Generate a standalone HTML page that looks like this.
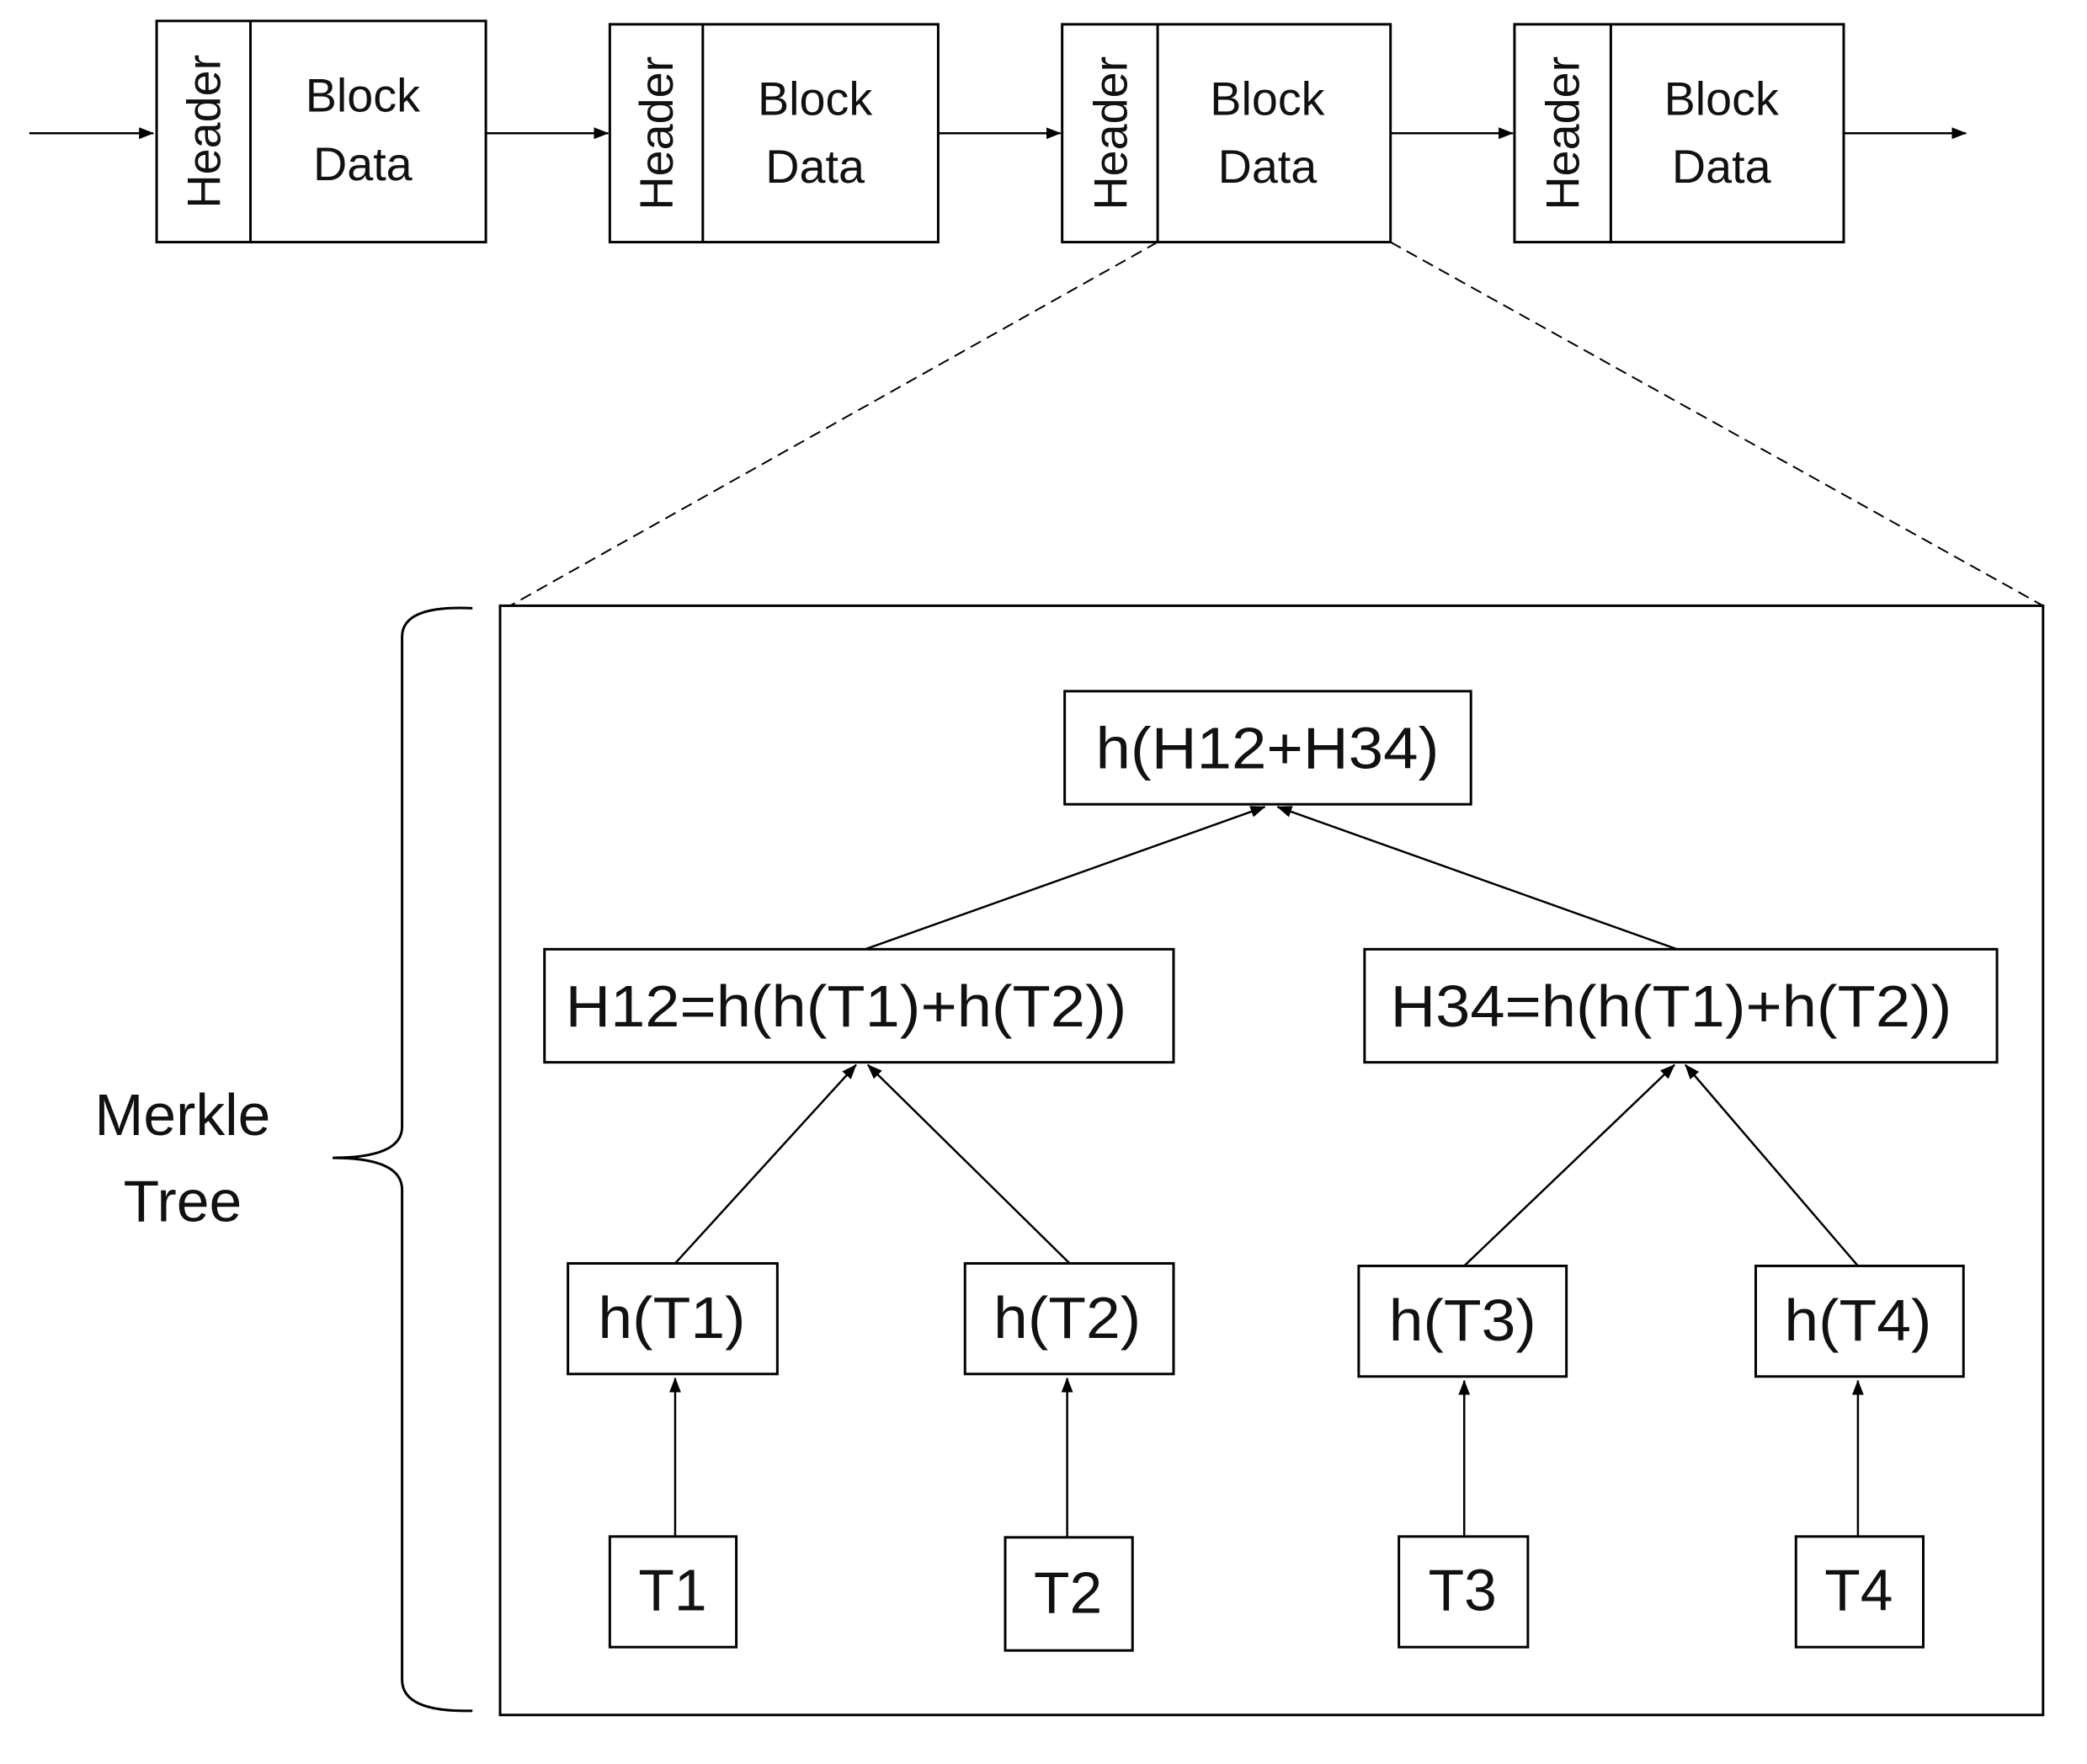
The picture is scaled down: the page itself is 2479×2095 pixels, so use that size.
<!DOCTYPE html>
<html><head><meta charset="utf-8"><style>
html,body{margin:0;padding:0;background:#fff;}
svg{display:block;}
text{font-family:"Liberation Sans",sans-serif;fill:#111;}
</style></head><body>
<svg width="2479" height="2095" viewBox="0 0 2479 2095" xmlns="http://www.w3.org/2000/svg">
<defs>
<marker id="b" markerWidth="18" markerHeight="18" refX="17" refY="9" orient="auto" markerUnits="userSpaceOnUse" viewBox="0 0 18 18">
<path d="M0,2 L18,9 L0,16 z" fill="#000"/></marker>
</defs>
<g transform="scale(0.995)">
<g stroke="#000" stroke-width="3" fill="none">
<rect x="187" y="25" width="393" height="264"/><line x1="299" y1="25" x2="299" y2="289"/>
<rect x="728" y="29" width="392" height="260"/><line x1="839" y1="29" x2="839" y2="289"/>
<rect x="1268" y="29" width="392" height="260"/><line x1="1382" y1="29" x2="1382" y2="289"/>
<rect x="1808" y="29" width="393" height="260"/><line x1="1923" y1="29" x2="1923" y2="289"/>
</g>
<g stroke="#000" stroke-width="2.5" fill="none">
<line x1="35" y1="159" x2="183" y2="159" marker-end="url(#b)"/>
<line x1="580" y1="159" x2="726" y2="159" marker-end="url(#b)"/>
<line x1="1120" y1="159" x2="1266" y2="159" marker-end="url(#b)"/>
<line x1="1660" y1="159" x2="1806" y2="159" marker-end="url(#b)"/>
<line x1="2201" y1="159" x2="2347" y2="159" marker-end="url(#b)"/>
</g>
<g font-size="56" text-anchor="middle">
<text x="433" y="133">Block</text><text x="433" y="215">Data</text>
<text x="973" y="137">Block</text><text x="973" y="218">Data</text>
<text x="1513" y="137">Block</text><text x="1513" y="218">Data</text>
<text x="2055" y="137">Block</text><text x="2055" y="218">Data</text>
</g>
<g font-size="56" text-anchor="middle">
<text transform="translate(263,157) rotate(-90)">Header</text>
<text transform="translate(803,159) rotate(-90)">Header</text>
<text transform="translate(1345,159) rotate(-90)">Header</text>
<text transform="translate(1885,159) rotate(-90)">Header</text>
</g>
<g stroke="#000" stroke-width="2" stroke-dasharray="14,8" fill="none">
<line x1="1382" y1="289" x2="609" y2="723"/>
<line x1="1660" y1="289" x2="2439" y2="723"/>
</g>
<rect x="597" y="723" width="1842" height="1324" stroke="#000" stroke-width="3" fill="none"/>
<path d="M564,726 Q480,722 480,760 L480,1345 Q480,1382 397,1382 Q480,1382 480,1420 L480,2005 Q480,2044 564,2042" stroke="#000" stroke-width="3" fill="none"/>
<g font-size="70" text-anchor="middle">
<text x="218" y="1355">Merkle</text>
<text x="218" y="1458">Tree</text>
</g>
<g stroke="#000" stroke-width="3" fill="none">
<rect x="1271" y="825" width="485" height="135"/>
<rect x="650" y="1133" width="751" height="135"/>
<rect x="1629" y="1133" width="755" height="135"/>
<rect x="678" y="1508" width="250" height="132"/>
<rect x="1152" y="1508" width="249" height="132"/>
<rect x="1622" y="1511" width="248" height="132"/>
<rect x="2096" y="1511" width="248" height="132"/>
<rect x="728" y="1834" width="151" height="132"/>
<rect x="1200" y="1835" width="152" height="135"/>
<rect x="1670" y="1834" width="154" height="132"/>
<rect x="2144" y="1834" width="152" height="132"/>
</g>
<g stroke="#000" stroke-width="2.5" fill="none">
<line x1="806" y1="1834" x2="806" y2="1645" marker-end="url(#b)"/>
<line x1="1274" y1="1835" x2="1274" y2="1645" marker-end="url(#b)"/>
<line x1="1748" y1="1834" x2="1748" y2="1648" marker-end="url(#b)"/>
<line x1="2218" y1="1834" x2="2218" y2="1648" marker-end="url(#b)"/>
<line x1="806" y1="1508" x2="1022" y2="1271" marker-end="url(#b)"/>
<line x1="1277" y1="1508" x2="1036" y2="1271" marker-end="url(#b)"/>
<line x1="1748" y1="1511" x2="1999" y2="1271" marker-end="url(#b)"/>
<line x1="2218" y1="1511" x2="2012" y2="1271" marker-end="url(#b)"/>
<line x1="1033" y1="1133" x2="1510" y2="963" marker-end="url(#b)"/>
<line x1="2002" y1="1133" x2="1525" y2="963" marker-end="url(#b)"/>
</g>
<g font-size="70" text-anchor="middle">
<text x="1513" y="917" textLength="410" lengthAdjust="spacingAndGlyphs">h(H12+H34)</text>
<text x="1010" y="1225" textLength="670" lengthAdjust="spacingAndGlyphs">H12=h(h(T1)+h(T2))</text>
<text x="1995" y="1225" textLength="670" lengthAdjust="spacingAndGlyphs">H34=h(h(T1)+h(T2))</text>
<text x="802" y="1597" textLength="176" lengthAdjust="spacingAndGlyphs">h(T1)</text>
<text x="1274" y="1597" textLength="176" lengthAdjust="spacingAndGlyphs">h(T2)</text>
<text x="1746" y="1600" textLength="176" lengthAdjust="spacingAndGlyphs">h(T3)</text>
<text x="2218" y="1600" textLength="176" lengthAdjust="spacingAndGlyphs">h(T4)</text>
<text x="803" y="1922">T1</text>
<text x="1275" y="1925">T2</text>
<text x="1746" y="1922">T3</text>
<text x="2219" y="1922">T4</text>
</g>
</g>
</svg>
</body></html>
